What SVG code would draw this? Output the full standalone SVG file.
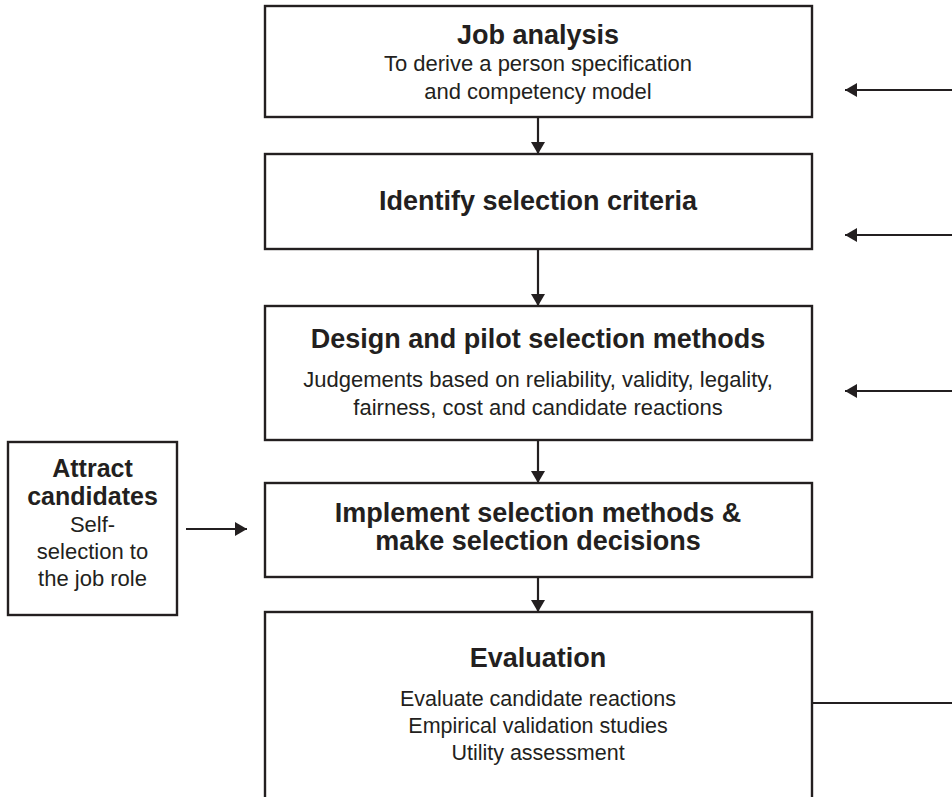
<svg xmlns="http://www.w3.org/2000/svg" width="952" height="797" viewBox="0 0 952 797">
  <style>
    .box { fill: #ffffff; stroke: #231f20; stroke-width: 2.4; }
    .line { fill: none; stroke: #231f20; stroke-width: 2.2; }
    .title { font-family: "Liberation Sans", Arial, sans-serif; font-weight: bold; font-size: 27px; fill: #231f20; text-anchor: middle; }
    .body { font-family: "Liberation Sans", Arial, sans-serif; font-size: 22px; fill: #231f20; text-anchor: middle; }
  </style>
  <defs>
    <marker id="head" markerUnits="userSpaceOnUse" markerWidth="12" markerHeight="14" viewBox="0 0 12 14" refX="12" refY="7" orient="auto">
      <path d="M0,0 L12,7 L0,14 Z" fill="#231f20"/>
    </marker>
  </defs>

  <rect width="952" height="797" fill="#ffffff"/>

  <!-- connectors -->
  <g id="connectors">
    <line class="line" x1="538" y1="117" x2="538" y2="154" marker-end="url(#head)"/>
    <line class="line" x1="538" y1="249" x2="538" y2="306" marker-end="url(#head)"/>
    <line class="line" x1="538" y1="440" x2="538" y2="483" marker-end="url(#head)"/>
    <line class="line" x1="538" y1="577" x2="538" y2="612" marker-end="url(#head)"/>
    <line class="line" x1="186" y1="529" x2="247" y2="529" marker-end="url(#head)"/>
    <line class="line" x1="952" y1="90" x2="845" y2="90" marker-end="url(#head)"/>
    <line class="line" x1="952" y1="235" x2="845" y2="235" marker-end="url(#head)"/>
    <line class="line" x1="952" y1="391" x2="845" y2="391" marker-end="url(#head)"/>
    <line class="line" x1="812" y1="703" x2="952" y2="703"/>
  </g>

  <g id="job-analysis">
    <rect class="box" x="265" y="6" width="547" height="111"/>
    <text class="title" x="538" y="44">Job analysis</text>
    <text class="body" x="538" y="71">To derive a person specification</text>
    <text class="body" x="538" y="99">and competency model</text>
  </g>

  <g id="identify-criteria">
    <rect class="box" x="265" y="154" width="547" height="95"/>
    <text class="title" x="538" y="210">Identify selection criteria</text>
  </g>

  <g id="design-pilot">
    <rect class="box" x="265" y="306" width="547" height="134"/>
    <text class="title" x="538" y="348">Design and pilot selection methods</text>
    <text class="body" x="538" y="387">Judgements based on reliability, validity, legality,</text>
    <text class="body" x="538" y="415">fairness, cost and candidate reactions</text>
  </g>

  <g id="implement">
    <rect class="box" x="265" y="483" width="547" height="94"/>
    <text class="title" x="538" y="522">Implement selection methods &amp;</text>
    <text class="title" x="538" y="550">make selection decisions</text>
  </g>

  <g id="evaluation">
    <rect class="box" x="265" y="612" width="547" height="200"/>
    <text class="title" x="538" y="667">Evaluation</text>
    <text class="body" x="538" y="706" style="font-size:21.5px">Evaluate candidate reactions</text>
    <text class="body" x="538" y="733" style="font-size:21.5px">Empirical validation studies</text>
    <text class="body" x="538" y="760" style="font-size:21.5px">Utility assessment</text>
  </g>

  <g id="attract">
    <rect class="box" x="8" y="442" width="169" height="173"/>
    <text class="title" x="92.5" y="477" style="font-size:25px">Attract</text>
    <text class="title" x="92.5" y="505" style="font-size:25px">candidates</text>
    <text class="body" x="92.5" y="532">Self-</text>
    <text class="body" x="92.5" y="559">selection to</text>
    <text class="body" x="92.5" y="586">the job role</text>
  </g>
</svg>
